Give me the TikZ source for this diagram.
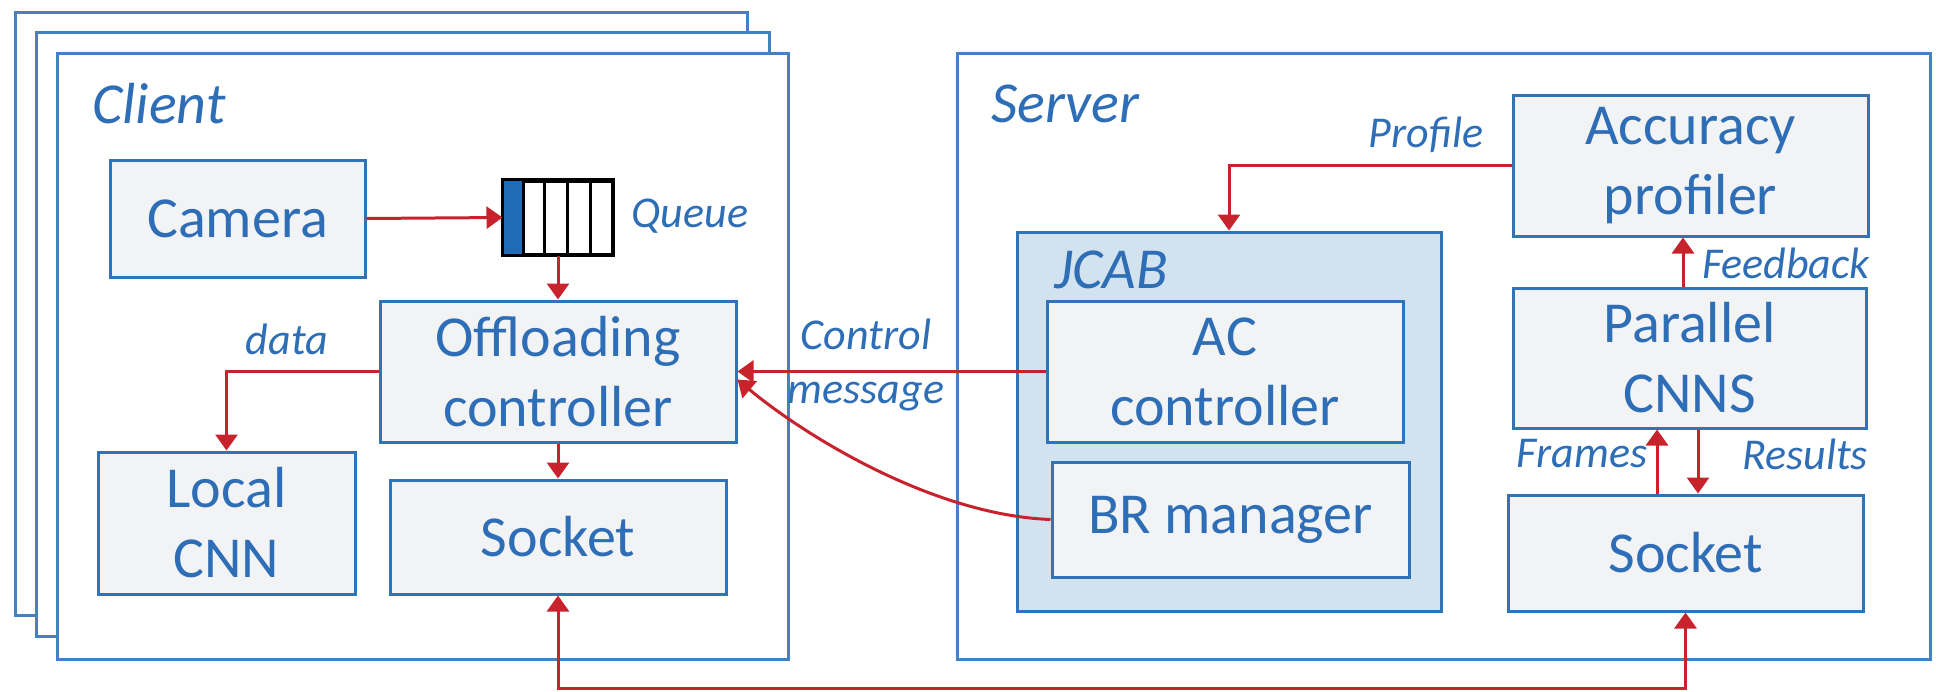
\documentclass[tikz,border=0pt]{standalone}
\usepackage{fontspec}
\setmainfont{Carlito}
\usetikzlibrary{arrows.meta}
\definecolor{btext}{HTML}{2E6EB6}
\definecolor{bline}{HTML}{2F74B8}
\definecolor{fline}{HTML}{4282C4}
\definecolor{bfill}{HTML}{F2F3F5}
\definecolor{jfill}{HTML}{D3E2EF}
\definecolor{ared}{HTML}{C8232C}
\definecolor{qblue}{HTML}{1F6BB5}
\tikzset{
  box/.style={draw=bline, fill=bfill, line width=3pt, inner sep=0pt, align=center,
    text=btext, font=\fontsize{58}{70}\selectfont},
  frame/.style={draw=fline, fill=white, line width=3pt},
  title/.style={text=btext, font=\fontsize{58}{70}\selectfont\itshape, inner sep=0pt},
  lbl/.style={text=btext, font=\fontsize{44}{54}\selectfont\itshape, inner sep=0pt, align=center},
  arr/.style={draw=ared, line width=3pt, -{Triangle[length=16pt,width=22pt]}},
  darr/.style={draw=ared, line width=3pt, {Triangle[length=16pt,width=22pt]}-{Triangle[length=16pt,width=22pt]}},
}
\begin{document}
\begin{tikzpicture}[x=1pt,y=-1pt]
\useasboundingbox (0,0) rectangle (1936,691);
% client stack
\draw[frame] (15,12) rectangle (747,615);
\draw[frame] (36,32) rectangle (769,636);
\draw[frame] (57,53) rectangle (788,659);
\node[title, anchor=base west] (client) at (92,123) {Client};
% server frame
\draw[frame] (957,53) rectangle (1930,659);
\node[title, anchor=base west] (server) at (991,122) {Server};
% client boxes
\node[box, minimum width=255pt, minimum height=117pt] (cam) at (237.5,218.5) {Camera};
\node[box, minimum width=356pt, minimum height=141pt] (offl) at (558,371.5) {Offloading\\controller};
\node[box, minimum width=257pt, minimum height=142pt] (lcnn) at (226.5,523) {Local\\CNN};
\node[box, minimum width=336pt, minimum height=114pt] (csock) at (558,537) {Socket};
% queue
\node[draw=black, line width=3pt, minimum width=108pt, minimum height=73pt, inner sep=0pt] (queue) at (558,217.5) {};
\fill[qblue] ([shift={(1.5pt,-1.5pt)}]queue.north west) rectangle ([xshift=21pt,yshift=1.5pt]queue.south west);
\draw[black, line width=3pt] ([xshift=21pt]queue.north west) -- ([xshift=21pt]queue.south west);
\draw[black, line width=3pt] ([xshift=42pt]queue.north west) -- ([xshift=42pt]queue.south west);
\draw[black, line width=3pt] ([xshift=65pt]queue.north west) -- ([xshift=65pt]queue.south west);
\draw[black, line width=3pt] ([xshift=88pt]queue.north west) -- ([xshift=88pt]queue.south west);
\draw[black, line width=3pt] (queue.north west) rectangle (queue.south east);
\node[lbl] (qlbl) at (690,216) {Queue};
% server boxes
\node[draw=bline, fill=jfill, line width=3pt, minimum width=424pt, minimum height=379pt, inner sep=0pt] (jcab) at (1229,421.5) {};
\node[title, anchor=base west] (jcablbl) at (1054,288) {JCAB};
\node[box, minimum width=356pt, minimum height=141pt] (ac) at (1225,371.5) {AC\\controller};
\node[box, minimum width=357pt, minimum height=115pt] (br) at (1230.5,519.5) {BR manager};
\node[box, minimum width=355pt, minimum height=141pt] (acc) at (1690.5,165.5) {Accuracy\\profiler};
\node[box, minimum width=353pt, minimum height=140pt] (par) at (1689.5,358) {Parallel\\CNNS};
\node[box, minimum width=355pt, minimum height=116pt] (ssock) at (1685.5,553) {Socket};
% labels
\node[lbl] (datalbl) at (287,339) {data};
\node[lbl] (ctrllbl) at (866,365) {Control\\message};
\node[lbl] (proflbl) at (1426,135) {Profile};
\node[lbl] (fblbl) at (1786,263) {Feedback};
\node[lbl] (frlbl) at (1582,454) {Frames};
\node[lbl] (reslbl) at (1805,454) {Results};
% arrows
\draw[arr] (cam.east) -- (queue.west);
\draw[arr] (queue.south) -- (offl.north);
\draw[arr] (offl.west) -| (lcnn.north);
\draw[arr] (offl.south) -- (csock.north);
\coordinate (bot) at (0,688);
\draw[darr] (csock.south) -- (csock.south |- bot) -| (ssock.south);
\draw[arr] (ac.west) -- (offl.east);
\draw[arr] (br.west) .. controls (930,515) and (800,432) .. ([yshift=-8pt]offl.east);
\draw[arr] (acc.west) -| (jcab.north);
\draw[arr] ([xshift=-6.5pt]par.north) -- ([xshift=-6.5pt]par.north |- acc.south);
\draw[arr] ([xshift=-28.5pt]ssock.north) -- ([xshift=-28.5pt]ssock.north |- par.south);
\draw[arr] ([xshift=8.5pt]par.south) -- ([xshift=8.5pt]par.south |- ssock.north);
\end{tikzpicture}
\end{document}
